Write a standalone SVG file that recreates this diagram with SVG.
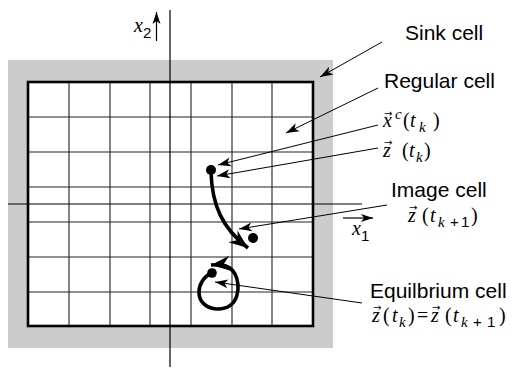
<svg xmlns="http://www.w3.org/2000/svg" width="515" height="370" viewBox="0 0 515 370">
<style>
.grid{stroke:#222;stroke-width:1.1;fill:none}
.axis{stroke:#000;stroke-width:1.2;fill:none}
.lead{stroke:#000;stroke-width:1;fill:none;marker-end:url(#ah)}
.lbl{font-family:"Liberation Sans",Arial,sans-serif;font-size:21px;fill:#000}
.m{font-family:"Liberation Serif","DejaVu Serif",serif;font-size:20px;fill:#000}
.i{font-style:italic}
.s{font-size:15px}
.n{font-family:"Liberation Sans",Arial,sans-serif;font-style:normal}
.v{font-family:"DejaVu Sans","Liberation Sans",sans-serif;font-size:10px;font-style:normal}
</style>
<defs>
<marker id="ah" markerUnits="userSpaceOnUse" markerWidth="16" markerHeight="12" viewBox="-14 -6 16 12" refX="0" refY="0" orient="auto">
<path d="M0,0 L-13,-4.5 L-9.5,0 L-13,4.5 Z" fill="#000"/>
</marker>
<marker id="big" markerUnits="userSpaceOnUse" markerWidth="24" markerHeight="18" viewBox="-22 -9 24 18" refX="0" refY="0" orient="auto">
<path d="M0,0 L-19,-7.5 L-13,0 L-19,7.5 Z" fill="#000"/>
</marker>
<marker id="ax" markerUnits="userSpaceOnUse" markerWidth="16" markerHeight="12" viewBox="-14 -6 16 12" refX="0" refY="0" orient="auto">
<path d="M0,0 L-12,-4 L-9,0 L-12,4 Z" fill="#000"/>
</marker>
</defs>
<g id="sink-region">
<rect x="8" y="60" width="325" height="288" fill="#cccccc"/>
<rect x="28" y="82" width="285" height="244" fill="#fff"/>
</g>
<g id="grid">
<path class="grid" d="M69,82V326M110,82V326M150,82V326M191,82V326M232,82V326M272,82V326M28,117H313M28,152H313M28,187H313M28,222H313M28,257H313M28,292H313"/>
<rect x="28" y="82" width="285" height="244" fill="none" stroke="#000" stroke-width="2.6"/>
</g>
<g id="axes">
<line class="axis" x1="170" y1="10" x2="170" y2="367"/>
<line class="axis" x1="8" y1="204" x2="362" y2="204"/>
<line x1="156.5" y1="41" x2="156.5" y2="12" stroke="#000" stroke-width="1.2" marker-end="url(#ax)"/>
<line x1="343" y1="218" x2="373" y2="218" stroke="#000" stroke-width="1.2" marker-end="url(#ax)"/>
<text class="m i" x="134" y="32">x<tspan class="s n" dy="6">2</tspan></text>
<text class="m i" x="352" y="235">x<tspan class="s n" dy="6">1</tspan></text>
</g>
<g id="trajectory">
<circle cx="211" cy="170" r="5" fill="#000"/>
<circle cx="253" cy="238" r="5" fill="#000"/>
<circle cx="212" cy="273" r="4.8" fill="#000"/>
<path d="M211,172 C212,205 222,228 248,248" fill="none" stroke="#000" stroke-width="3.6" marker-end="url(#big)"/>
<path d="M212,273 C196,279 192,306 216,309 C240,310 241,285 235,274 C230,265 222,264 211,265" fill="none" stroke="#000" stroke-width="3.6" marker-end="url(#big)"/>
</g>
<g id="connectors">
<line class="lead" x1="382" y1="42" x2="320" y2="77"/>
<line class="lead" x1="378" y1="88" x2="286" y2="133"/>
<line class="lead" x1="378" y1="125" x2="218" y2="165"/>
<line class="lead" x1="378" y1="148" x2="217" y2="176"/>
<line class="lead" x1="387" y1="205" x2="239" y2="229"/>
<line class="lead" x1="362" y1="303" x2="215" y2="282"/>
</g>
<g id="sink-cell">
<text class="lbl" x="405" y="40">Sink cell</text>
</g>
<g id="regular-cell">
<text class="lbl" x="384" y="88">Regular cell</text>
<text class="m"><tspan class="v" x="384" y="117">→</tspan><tspan class="i" x="383" y="127">x</tspan><tspan class="i s" x="395" y="119">c</tspan><tspan x="403" y="127">(</tspan><tspan class="i" x="410" y="127">t</tspan><tspan class="i s" x="419" y="132">k</tspan><tspan x="433" y="127">)</tspan></text>
<text class="m"><tspan class="v" x="384" y="146">→</tspan><tspan class="i" x="383" y="157">z</tspan><tspan x="402" y="157">(</tspan><tspan class="i" x="409" y="157">t</tspan><tspan class="i s" x="416" y="162">k</tspan><tspan x="424" y="157">)</tspan></text>
</g>
<g id="image-cell">
<text class="lbl" x="391" y="197">Image cell</text>
<text class="m"><tspan class="v" x="409" y="211">→</tspan><tspan class="i" x="408" y="222">z</tspan><tspan x="422" y="222">(</tspan><tspan class="i" x="430" y="222">t</tspan><tspan class="i s" x="438" y="227">k</tspan><tspan class="s n" x="450" y="227">+</tspan><tspan class="s n" x="461" y="227">1</tspan><tspan x="471" y="222">)</tspan></text>
</g>
<g id="equilibrium-cell">
<text class="lbl" x="370" y="298">Equilbrium cell</text>
<text class="m"><tspan class="v" x="373" y="311">→</tspan><tspan class="i" x="372" y="322">z</tspan><tspan x="383" y="322">(</tspan><tspan class="i" x="392" y="322">t</tspan><tspan class="i s" x="399" y="327">k</tspan><tspan x="408" y="322">)</tspan><tspan x="417" y="322">=</tspan><tspan class="v" x="432" y="311">→</tspan><tspan class="i" x="431" y="322">z</tspan><tspan x="445" y="322">(</tspan><tspan class="i" x="453" y="322">t</tspan><tspan class="i s" x="461" y="327">k</tspan><tspan class="s n" x="473" y="327">+</tspan><tspan class="s n" x="487" y="327">1</tspan><tspan x="499" y="322">)</tspan></text>
</g>
</svg>
